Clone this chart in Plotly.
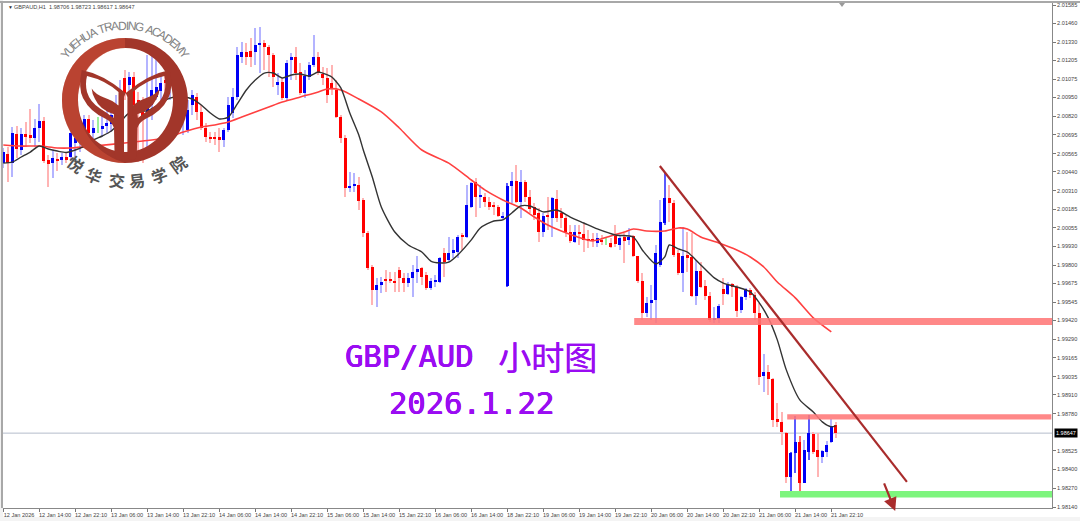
import math
import plotly.graph_objects as go

symbol_header = "GBPAUD,H1  1.98706 1.98723 1.98617 1.98647"
last_price = 1.98647

opens = [2.00500,2.00563,2.00500,2.00700,2.00590,2.00700,2.00693,2.00672,2.00741,2.00789,2.00521,2.00500,2.00528,2.00521,2.00542,2.00542,2.00638,2.00672,2.00713,2.00803,
2.00706,2.00748,2.00734,2.00755,2.00768,2.00830,2.00913,2.01084,2.01036,2.01091,2.00933,2.00851,2.00816,2.00899,2.00954,2.00995,2.01070,2.01029,2.01064,2.00967,
2.00851,2.00727,2.00899,2.00954,2.00851,2.00741,2.00679,2.00676,2.00676,2.00659,2.00727,2.00844,2.00954,2.01228,2.01262,2.01269,2.01262,2.01314,2.01324,2.01297,
2.01241,2.01036,2.01057,2.00947,2.01207,2.01228,2.01125,2.00981,2.01091,2.01173,2.01228,2.01111,2.01084,2.01050,2.01002,2.00816,2.00672,2.00329,2.00343,2.00350,
2.00247,2.00020,1.99787,1.99630,1.99664,1.99705,1.99698,1.99691,1.99767,1.99712,1.99677,1.99712,1.99753,1.99780,1.99732,1.99643,1.99684,1.99684,1.99883,1.99835,
1.99883,1.99890,2.00000,1.99993,2.00199,2.00370,2.00268,2.00268,2.00233,2.00213,2.00199,2.00130,1.99657,2.00343,2.00377,2.00233,2.00370,2.00268,2.00199,2.00158,
2.00027,2.00144,2.00123,2.00254,2.00158,2.00123,2.00027,1.99959,2.00020,2.00014,1.99973,1.99973,1.99952,1.99973,1.99966,1.99952,2.00000,1.99938,1.99993,1.99973,
2.00000,1.99863,1.99691,1.99472,1.99540,1.99561,1.99801,2.00089,2.00261,2.00226,1.99883,1.99746,1.99870,1.99856,1.99589,1.99760,1.99657,1.99589,1.99424,1.99431,
1.99637,1.99602,1.99671,1.99650,1.99492,1.99581,1.99630,1.99595,1.99472,1.99040,1.99067,1.99019,1.98745,1.98724,1.98648,1.98347,1.98511,1.98587,1.98305,1.98518,
1.98642,1.98532,1.98484,1.98518,1.98587,1.98706]
highs = [2.00604,2.00611,2.00748,2.00755,2.00741,2.00782,2.00871,2.00803,2.00906,2.00816,2.00556,2.00590,2.00569,2.00569,2.00576,2.00741,2.00706,2.00762,2.00830,2.00830,
2.00796,2.00816,2.00844,2.00878,2.00885,2.00967,2.01070,2.01139,2.01125,2.01125,2.00988,2.00954,2.01241,2.01255,2.01228,2.01105,2.01105,2.01118,2.01098,2.01036,
2.00967,2.00933,2.01002,2.00981,2.00899,2.00775,2.00713,2.00713,2.00741,2.00741,2.00954,2.01016,2.01297,2.01331,2.01324,2.01358,2.01427,2.01434,2.01345,2.01310,
2.01255,2.01118,2.01084,2.01207,2.01255,2.01297,2.01187,2.01139,2.01194,2.01379,2.01262,2.01159,2.01153,2.01173,2.01070,2.00830,2.00693,2.00439,2.00432,2.00405,
2.00261,2.00034,1.99801,1.99712,1.99719,1.99767,1.99753,1.99753,1.99787,1.99746,1.99746,1.99801,1.99862,1.99787,1.99753,1.99712,1.99732,1.99856,1.99918,1.99993,
1.99980,2.00007,2.00020,2.00350,2.00370,2.00398,2.00350,2.00295,2.00268,2.00233,2.00213,2.00164,2.00363,2.00439,2.00487,2.00453,2.00384,2.00316,2.00226,2.00192,
2.00158,2.00268,2.00268,2.00316,2.00192,2.00144,2.00075,2.00075,2.00075,2.00089,2.00041,2.00020,2.00020,2.00007,1.99993,1.99986,2.00075,2.00007,2.00020,2.00055,
2.00007,1.99863,1.99746,1.99581,1.99664,1.99938,2.00247,2.00439,2.00350,2.00247,1.99904,2.00062,2.00027,2.00020,1.99835,1.99821,1.99698,1.99616,1.99513,1.99534,
1.99712,1.99684,1.99677,1.99664,1.99588,1.99643,1.99643,1.99616,1.99541,1.99191,1.99115,1.99026,1.98854,1.98792,1.98655,1.98518,1.98765,1.98628,1.98601,1.98772,
1.98655,1.98648,1.98532,1.98594,1.98745,1.98723]
lows = [2.00466,2.00370,2.00405,2.00535,2.00556,2.00611,2.00638,2.00611,2.00645,2.00500,2.00336,2.00398,2.00446,2.00487,2.00500,2.00521,2.00542,2.00576,2.00638,2.00645,
2.00611,2.00706,2.00679,2.00706,2.00713,2.00762,2.00885,2.00933,2.00954,2.00796,2.00507,2.00500,2.00576,2.00796,2.00933,2.00933,2.00967,2.00933,2.00899,2.00899,
2.00693,2.00706,2.00830,2.00796,2.00727,2.00645,2.00638,2.00624,2.00576,2.00611,2.00713,2.00810,2.00933,2.01186,2.01173,2.01159,2.01173,2.01118,2.01139,2.01091,
2.01022,2.00967,2.00933,2.00933,2.01070,2.01070,2.00967,2.00947,2.01070,2.01159,2.01105,2.01036,2.00913,2.00967,2.00810,2.00638,2.00268,2.00302,2.00302,2.00178,
1.99993,1.99767,1.99527,1.99513,1.99609,1.99616,1.99677,1.99616,1.99616,1.99616,1.99650,1.99581,1.99677,1.99664,1.99630,1.99630,1.99650,1.99677,1.99719,1.99821,
1.99849,1.99849,1.99904,1.99986,2.00192,2.00130,2.00192,2.00199,2.00178,2.00144,2.00130,2.00110,1.99650,2.00226,2.00226,2.00123,2.00233,2.00158,2.00110,1.99959,
1.99993,2.00041,1.99993,2.00096,2.00055,1.99993,1.99952,1.99952,1.99938,1.99890,1.99918,1.99925,1.99925,1.99938,1.99938,1.99918,1.99925,1.99904,1.99815,1.99938,
1.99856,1.99677,1.99424,1.99445,1.99424,1.99403,1.99787,2.00075,2.00096,1.99856,1.99732,1.99616,1.99753,1.99581,1.99527,1.99643,1.99561,1.99410,1.99403,1.99403,
1.99527,1.99595,1.99581,1.99445,1.99472,1.99561,1.99574,1.99424,1.98978,1.98930,1.98910,1.98690,1.98690,1.98567,1.98305,1.98217,1.98374,1.98224,1.98305,1.98463,
1.98505,1.98347,1.98443,1.98484,1.98580,1.98617]
closes = [2.00576,2.00500,2.00706,2.00597,2.00700,2.00679,2.00672,2.00741,2.00789,2.00514,2.00494,2.00535,2.00514,2.00542,2.00521,2.00706,2.00672,2.00727,2.00803,2.00706,
2.00741,2.00748,2.00755,2.00775,2.00830,2.00885,2.01002,2.00981,2.01091,2.00899,2.00851,2.00823,2.00913,2.01002,2.01022,2.01050,2.01050,2.01070,2.00954,2.00947,
2.00899,2.00864,2.00967,2.00851,2.00741,2.00679,2.00672,2.00669,2.00665,2.00727,2.00899,2.00954,2.01241,2.01262,2.01228,2.01228,2.01310,2.01324,2.01297,2.01241,
2.01091,2.01057,2.00947,2.01187,2.01228,2.01118,2.00981,2.01098,2.01173,2.01228,2.01118,2.01084,2.00967,2.01009,2.00816,2.00672,2.00329,2.00343,2.00357,2.00240,
2.00020,1.99780,1.99630,1.99664,1.99684,1.99691,1.99691,1.99684,1.99712,1.99677,1.99712,1.99753,1.99774,1.99719,1.99643,1.99691,1.99698,1.99849,1.99821,1.99883,
1.99904,1.99993,1.99993,2.00213,2.00363,2.00268,2.00281,2.00233,2.00199,2.00199,2.00137,2.00137,2.00343,2.00377,2.00233,2.00370,2.00268,2.00185,2.00144,2.00027,
2.00137,2.00130,2.00261,2.00123,2.00123,2.00027,1.99966,2.00027,2.00014,1.99973,1.99966,1.99966,1.99986,1.99959,1.99966,1.99925,1.99945,1.99986,1.99966,1.99993,
1.99863,1.99691,1.99472,1.99540,1.99561,1.99883,2.00096,2.00261,2.00226,1.99870,1.99746,1.99863,1.99849,1.99589,1.99760,1.99650,1.99589,1.99424,1.99438,1.99520,
1.99602,1.99671,1.99650,1.99485,1.99581,1.99637,1.99595,1.99472,1.99033,1.99067,1.99019,1.98738,1.98724,1.98655,1.98347,1.98511,1.98587,1.98305,1.98532,1.98648,
1.98518,1.98484,1.98525,1.98566,1.98697,1.98647]

fast_ma_bar = [0,2,4,6,8,10,12,14,16,18,20,22,24,26,28,30,32,34,36,38,40,42,44,46,48,50,52,54,56,58,60,62,64,66,68,70,72,73,75,77,79,80,82,84,87,90,93,95,97,99,101,104,106,109,111,113,115,117,120,123,126,129,132,136,140,142,145,147,148,150,152,155,158,160,163,166,168,170,172,174,177,180,182,184,185]
fast_ma = [2.00500,2.00507,2.00542,2.00576,2.00617,2.00597,2.00583,2.00573,2.00590,2.00617,2.00659,2.00686,2.00720,2.00782,2.00844,2.00858,2.00858,2.00892,2.00933,2.00954,2.00954,2.00940,2.00899,2.00844,2.00803,2.00816,2.00906,2.01002,2.01070,2.01118,2.01118,2.01084,2.01105,2.01111,2.01098,2.01125,2.01105,2.01091,2.01016,2.00844,2.00693,2.00590,2.00405,2.00199,2.00027,1.99938,1.99890,1.99828,1.99815,1.99821,1.99870,1.99973,2.00055,2.00103,2.00110,2.00158,2.00206,2.00206,2.00165,2.00178,2.00130,2.00089,2.00048,2.00007,1.99993,1.99904,1.99808,1.99856,1.99938,1.99911,1.99890,1.99801,1.99712,1.99677,1.99650,1.99616,1.99541,1.99438,1.99287,1.99081,1.98875,1.98792,1.98724,1.98690,1.98697]

slow_ma_bar = [0,4,8,12,15,20,27,31,36,40,44,47,50,53,56,59,62,66,70,72,75,79,84,88,93,99,104,107,111,115,118,121,124,127,131,135,138,140,143,147,150,152,155,159,163,166,169,172,176,180,184]
slow_ma = [2.00624,2.00617,2.00617,2.00604,2.00604,2.00617,2.00638,2.00652,2.00672,2.00713,2.00748,2.00762,2.00782,2.00816,2.00851,2.00885,2.00919,2.00954,2.00988,2.01009,2.01002,2.00940,2.00851,2.00741,2.00590,2.00500,2.00384,2.00316,2.00247,2.00192,2.00130,2.00075,2.00034,2.00000,1.99966,2.00000,2.00027,2.00048,2.00034,2.00034,2.00055,2.00048,1.99993,1.99952,1.99904,1.99856,1.99787,1.99684,1.99575,1.99438,1.99342]

price_ticks = [2.01585,2.01460,2.01330,2.01205,2.01075,2.00950,2.00820,2.00695,2.00565,2.00440,2.00310,2.00185,2.00055,1.99930,1.99800,1.99675,1.99545,1.99420,1.99290,1.99165,1.99035,1.98910,1.98780,1.98525,1.98400,1.98270,1.98140]
time_labels = ["12 Jan 2026","12 Jan 14:00","12 Jan 22:10","13 Jan 06:00","13 Jan 14:00","13 Jan 22:10","14 Jan 06:00","14 Jan 14:00","14 Jan 22:10","15 Jan 06:00","15 Jan 14:00","15 Jan 22:10","16 Jan 06:00","16 Jan 14:00","18 Jan 22:10","19 Jan 06:00","19 Jan 14:00","19 Jan 22:10","20 Jan 06:00","20 Jan 14:00","20 Jan 22:10","21 Jan 06:00","21 Jan 14:00","21 Jan 22:10"]
title_pair = "GBP/AUD"
title_cn = "小时图"
title_date = "2026.1.22"
logo_en = "YUEHUA TRADING ACADEMY"
logo_cn = "悦华交易学院"

# ---- layout constants (pixels of the 1080x521 page)
L, R, T, B = 3, 1052, 3, 508
W, H = 1080, 521
PX_BAR, X0 = 4.5, 3.3
PX_PRICE = 14572.0
RED, BLUE, DOJI = "#ff0000", "#0000f5", "#9cf09c"
RED_W, BLUE_W = "#ffb4b4", "#b4b4ff"
DARK_WICK = {112, 147, 175, 176, 177, 179}
LOGO = "#a2362a"

def px(x):
    return (x - L) / (R - L)
def py(y):
    return (B - y) / (B - T)

def path(cmds):
    out = []
    for c in cmds:
        nums = c[1:]
        conv = [px(v) if k % 2 == 0 else py(v) for k, v in enumerate(nums)]
        out.append(c[0] + " ".join(f"{v:.5f}" for v in conv))
    return " ".join(out)

def mirror(cmds, cx=125.7):
    res = []
    for c in cmds:
        nums = list(c[1:])
        for k in range(0, len(nums), 2):
            nums[k] = 2 * cx - nums[k]
        res.append((c[0], *nums))
    return res

def ellipse(cx, cy, rx, ry):
    k = 0.5523
    return [("M", cx - rx, cy),
            ("C", cx - rx, cy - k * ry, cx - k * rx, cy - ry, cx, cy - ry),
            ("C", cx + k * rx, cy - ry, cx + rx, cy - k * ry, cx + rx, cy),
            ("C", cx + rx, cy + k * ry, cx + k * rx, cy + ry, cx, cy + ry),
            ("C", cx - k * rx, cy + ry, cx - rx, cy + k * ry, cx - rx, cy),
            ("Z",)]

n = len(opens)
bars = list(range(n))
MIN_BODY = 1.3 / PX_PRICE

fig = go.Figure()

def wick_trace(idx, color):
    fig.add_trace(go.Bar(x=idx, y=[highs[i] - lows[i] for i in idx], base=[lows[i] for i in idx],
                         width=0.24, marker=dict(color=color, line_width=0), showlegend=False))

up = [i for i in bars if closes[i] > opens[i]]
down = [i for i in bars if closes[i] < opens[i]]
flat = [i for i in bars if closes[i] == opens[i]]
wick_trace([i for i in up if i not in DARK_WICK], BLUE_W)
wick_trace([i for i in up if i in DARK_WICK], "#5a5aff")
wick_trace([i for i in down if i not in DARK_WICK], RED_W)
wick_trace([i for i in down if i in DARK_WICK], "#ff6a6a")
wick_trace(flat, DOJI)

def body_trace(idx, color):
    fig.add_trace(go.Bar(x=idx,
                         y=[max(abs(closes[i] - opens[i]), MIN_BODY) for i in idx],
                         base=[min(closes[i], opens[i]) for i in idx],
                         width=0.72, marker=dict(color=color, line_width=0), showlegend=False))
body_trace(up, BLUE)
body_trace(down, RED)

fig.add_trace(go.Scatter(x=slow_ma_bar, y=slow_ma, mode="lines", showlegend=False,
                         line=dict(color="#ff4040", width=1.6, shape="spline", smoothing=0.7)))
fig.add_trace(go.Scatter(x=fast_ma_bar, y=fast_ma, mode="lines", showlegend=False,
                         line=dict(color="#333333", width=1.4, shape="spline", smoothing=0.7)))

shapes = []
# last price line
shapes.append(dict(type="line", xref="paper", x0=0, x1=1, yref="y", y0=last_price, y1=last_price,
                   layer="below", line=dict(color="#b4bccb", width=1)))
# zones
ZONE_RED = "rgba(255,120,120,0.88)"
ZONE_GREEN = "rgba(125,245,125,1)"
shapes.append(dict(type="rect", xref="x", yref="y", x0=140.2, x1=233.1, y0=1.99389, y1=1.99437, fillcolor=ZONE_RED, line_width=0))
shapes.append(dict(type="rect", xref="x", yref="y", x0=174.2, x1=232.9, y0=1.98740, y1=1.98777, fillcolor=ZONE_RED, line_width=0))
shapes.append(dict(type="rect", xref="x", yref="y", x0=172.6, x1=233.1, y0=1.98205, y1=1.98249, fillcolor=ZONE_GREEN, line_width=0))
# trend line
shapes.append(dict(type="line", xref="x", yref="y", x0=145.9, y0=2.00480, x1=200.8, y1=1.98312,
                   line=dict(color="#a92c2c", width=2.2)))
# frame
shapes.append(dict(type="rect", xref="paper", yref="paper", x0=px(0), x1=px(L), y0=py(521), y1=py(0), fillcolor="#f2f2f2", line_width=0, layer="below"))
shapes.append(dict(type="line", xref="paper", yref="paper", x0=px(2), x1=px(2), y0=py(2), y1=py(B), line=dict(color="#a8a8a8", width=2)))
shapes.append(dict(type="line", xref="paper", yref="paper", x0=px(0), x1=px(1080), y0=py(2), y1=py(2), line=dict(color="#a8a8a8", width=2)))
shapes.append(dict(type="rect", xref="paper", yref="paper", x0=px(0), x1=px(1080), y0=py(521), y1=py(517), fillcolor="#f4f4f4", line_width=0, layer="below"))
# small shift marker on the top edge
shapes.append(dict(type="path", xref="paper", yref="paper",
                   path=path([("M", 839, 3), ("L", 845, 3), ("L", 842, 7), ("Z",)]), fillcolor="#9a9a9a", line_width=0))

# logo
ring = ellipse(125, 100.5, 63, 62.5) + ellipse(125.5, 100, 47.5, 52)
shapes.append(dict(type="path", xref="paper", yref="paper", path=path(ring), fillcolor=LOGO, line_width=0, fillrule="evenodd"))
shapes.append(dict(type="path", xref="paper", yref="paper",
                   path=path([("M", 125, 38), ("C", 90, 38, 62, 66, 62, 100.5), ("C", 62, 135, 90, 163, 125, 163),
                              ("C", 100, 155, 78, 135, 78, 100), ("C", 78, 73, 100, 48, 125, 48), ("Z",)]),
                   fillcolor="rgba(235,95,65,0.32)", line_width=0))
tulip = [("M", 81.7, 70), ("Q", 103, 74, 125.7, 93), ("L", 124, 97), ("L", 124, 155),
         ("Q", 124, 160, 119, 160), ("Q", 114.5, 160, 114.5, 152), ("L", 114, 128),
         ("Q", 112, 122, 106, 119), ("Q", 90, 112, 83, 98), ("Q", 78, 88, 81.7, 70), ("Z",),
         ("M", 87, 76), ("Q", 105, 80, 118.5, 92), ("L", 118.5, 105), ("L", 114, 114), ("L", 113.5, 118),
         ("Q", 106, 112, 100, 108.5), ("Q", 90, 102, 87, 92), ("Q", 85, 84, 87, 76), ("Z",)]
leaf = [("M", 91.7, 88.5), ("Q", 95, 94, 104, 97.5), ("Q", 113, 100.5, 119, 106), ("L", 119, 116),
        ("L", 113.5, 114), ("Q", 100, 110, 95, 99), ("Q", 92, 94, 91.7, 88.5), ("Z",)]
for shp in (tulip, mirror(tulip), leaf, mirror(leaf)):
    shapes.append(dict(type="path", xref="paper", yref="paper", path=path(shp), fillcolor=LOGO, line_width=0, fillrule="evenodd"))

ann = []
def text(x, y, s, size, color, family="Liberation Sans", anchor="center", angle=0, shadow=None, **kw):
    f = dict(size=size, color=color, family=family)
    if shadow:
        f["shadow"] = shadow
    ann.append(dict(xref="paper", yref="paper", x=px(x), y=py(y), text=s, showarrow=False,
                    xanchor=anchor, yanchor="middle", textangle=angle, font=f, **kw))

# chart header
text(5.5, 7, "▼", 5, "#333333", anchor="left")
text(12, 7, symbol_header.replace(" ", "&nbsp;", 2), 5.6, "#444444", anchor="left")
# last price tag
text(1066, 432.5, f"{last_price:.5f}", 5.5, "#ffffff", bgcolor="#000000", borderpad=1)
# big titles
MONO = "DejaVu Sans Mono"
PURPLE = "#9a0cf2"
HEAVY = f"0.5px 0 0 {PURPLE}, -0.3px 0 0 {PURPLE}, 0 0.3px 0 {PURPLE}"
text(409, 356, title_pair, 30.5, PURPLE, family=MONO, shadow=HEAVY)
text(547, 356, title_cn, 33, PURPLE, family="Noto Sans CJK SC", shadow=f"0.4px 0 0 {PURPLE}")
text(471.5, 403, title_date, 30.5, PURPLE, family=MONO, shadow=HEAVY)
# logo lettering, spaced along the arc by glyph width
WIDE = {"M": 1.25, "I": 0.45, "H": 1.05, "A": 1.0, "N": 1.05, "G": 1.05, "D": 1.05, "U": 1.05, "C": 1.05, " ": 0.5, "Y": 0.95, "T": 0.9, "R": 1.0, "E": 0.95}
weights = [WIDE[c] for c in logo_en]
total = sum(weights)
run = 0.0
for ch, wd in zip(logo_en, weights):
    th = -54 + 108 * (run + wd / 2) / total
    run += wd
    if ch == " ":
        continue
    text(125 + 75.5 * math.sin(math.radians(th)), 101 - 75.5 * math.cos(math.radians(th)), ch, 12, "#828282", angle=th)
for ch, (x, y, a) in zip(logo_cn, [(76, 164, 38), (94, 175, 22), (117, 180, 6), (137, 180, -6), (159, 175, -20), (178, 164, -36)]):
    text(x, y, f"<b>{ch}</b>", 16, "#555555", family="Noto Sans CJK SC", angle=a)
# arrow
ann.append(dict(xref="x", yref="y", axref="x", ayref="y", x=198.2, y=1.98113, ax=195.6, ay=1.98312,
                text="", showarrow=True, arrowhead=2, arrowsize=1.2, arrowwidth=2.2, arrowcolor="#a92c2c"))

tick_idx = [8 * k for k in range(len(time_labels))]
fig.update_layout(
    width=W, height=H, autosize=False, paper_bgcolor="#ffffff", plot_bgcolor="#ffffff",
    margin=dict(l=L, r=W - R, t=T, b=H - B, pad=0),
    barmode="overlay", bargap=0, showlegend=False,
    shapes=shapes, annotations=ann, hovermode=False,
    xaxis=dict(range=[(L - X0) / PX_BAR, (R - X0) / PX_BAR], showgrid=False, zeroline=False,
               tickmode="array", tickvals=[v + 3.5 for v in tick_idx], ticktext=time_labels, ticks="",
               tickfont=dict(size=5.6, color="#444444", family="Liberation Sans"), ticklabelstandoff=1,
               minor=dict(tickmode="array", tickvals=tick_idx, ticks="outside", ticklen=3, tickcolor="#777777", tickwidth=1, showgrid=False),
               showline=True, linecolor="#888888", linewidth=1),
    yaxis=dict(range=[price_ticks[0] - 503 / PX_PRICE, price_ticks[0] + 2 / PX_PRICE], side="right", showgrid=False, zeroline=False,
               tickmode="array", tickvals=price_ticks, ticktext=[f"{v:.5f}" for v in price_ticks],
               ticks="outside", ticklen=3, tickcolor="#777777", tickwidth=1,
               tickfont=dict(size=5.6, color="#444444", family="Liberation Sans"),
               showline=True, linecolor="#888888", linewidth=1),
)
fig.write_html("out.html", config=dict(displayModeBar=False),
               post_script="document.body.style.margin='0';document.body.style.overflow='hidden';")
